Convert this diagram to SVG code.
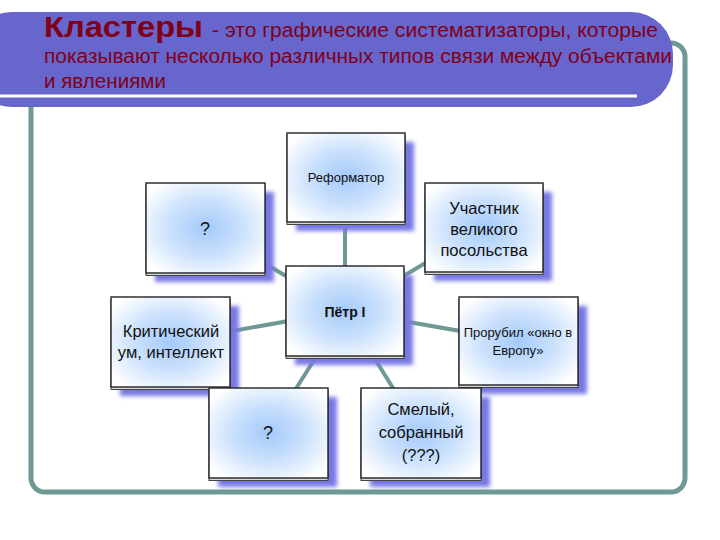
<svg xmlns="http://www.w3.org/2000/svg" width="720" height="540" viewBox="0 0 720 540">
<defs>
<radialGradient id="g" cx="0.5" cy="0.5" r="0.62">
<stop offset="0" stop-color="#a4cafa"/>
<stop offset="0.5" stop-color="#cbe1fc"/>
<stop offset="1" stop-color="#ffffff"/>
</radialGradient>
<filter id="blur" x="-20%" y="-20%" width="140%" height="140%">
<feGaussianBlur stdDeviation="2.2"/>
</filter>
<style>
.sh{fill:#7878e4;filter:url(#blur)}
.back{fill:#d8d8d8;stroke:#444;stroke-width:1}
.box{fill:url(#g);stroke:#222;stroke-width:1.4}
.t{font-family:"Liberation Sans",Arial,sans-serif;fill:#111;text-anchor:middle}
.c line{stroke:#6f9994;stroke-width:4}
.title{font-family:"Liberation Sans",Arial,sans-serif;fill:#800018}
</style>
</defs>
<rect width="720" height="540" fill="#fff"/>
<rect x="31" y="43" width="654" height="449" rx="14" fill="none" stroke="#6f9994" stroke-width="5"/>
<rect x="-30" y="12" width="703" height="95" rx="42" fill="#6666cc"/>
<line x1="0" y1="96" x2="637" y2="96" stroke="#fff" stroke-width="3"/>
<g id="title" class="title">
<text x="44" y="37" font-size="30" font-weight="bold" textLength="159" lengthAdjust="spacingAndGlyphs">Кластеры</text>
<text x="212" y="37" font-size="20" textLength="446" lengthAdjust="spacingAndGlyphs">- это графические систематизаторы, которые</text>
<text x="44" y="63" font-size="20" textLength="628" lengthAdjust="spacingAndGlyphs">показывают несколько различных типов связи между объектами</text>
<text x="44" y="88" font-size="20" textLength="122" lengthAdjust="spacingAndGlyphs">и явлениями</text>
</g>
<g id="connectors" class="c">
<line x1="345" y1="311" x2="345" y2="178"/>
<line x1="345" y1="311" x2="205" y2="228"/>
<line x1="345" y1="311" x2="484" y2="228"/>
<line x1="345" y1="311" x2="170" y2="342"/>
<line x1="345" y1="311" x2="518" y2="341"/>
<line x1="345" y1="311" x2="268" y2="433"/>
<line x1="345" y1="311" x2="421" y2="433"/>
</g>
<g id="n-reformator">
<rect class="sh" x="296" y="142" width="118" height="89"/>
<rect class="back" x="287" y="135.5" width="118" height="89"/>
<rect class="box" x="287" y="133" width="118" height="89"/>
<text class="t" x="346" y="182" font-size="13">Реформатор</text>
</g>
<g id="n-q1">
<rect class="sh" x="155" y="192" width="119" height="90"/>
<rect class="back" x="146" y="185.5" width="119" height="90"/>
<rect class="box" x="146" y="183" width="119" height="90"/>
<text class="t" x="205" y="235" font-size="18">?</text>
</g>
<g id="n-uchastnik">
<rect class="sh" x="434" y="192" width="118" height="89"/>
<rect class="back" x="425" y="185.5" width="118" height="89"/>
<rect class="box" x="425" y="183" width="118" height="89"/>
<text class="t" x="484" y="214" font-size="16.5">Участник</text>
<text class="t" x="484" y="235" font-size="16.5">великого</text>
<text class="t" x="484" y="256" font-size="16.5">посольства</text>
</g>
<g id="n-petr">
<rect class="sh" x="295" y="275" width="118" height="90"/>
<rect class="back" x="286" y="268.5" width="118" height="90"/>
<rect class="box" x="286" y="266" width="118" height="90"/>
<text class="t" x="345" y="317" font-size="14" font-weight="bold">Пётр I</text>
</g>
<g id="n-krit">
<rect class="sh" x="120" y="306" width="119" height="90"/>
<rect class="back" x="111" y="299.5" width="119" height="90"/>
<rect class="box" x="111" y="297" width="119" height="90"/>
<text class="t" x="171" y="337" font-size="16.5">Критический</text>
<text class="t" x="171" y="358" font-size="16.5">ум, интеллект</text>
</g>
<g id="n-prorubil">
<rect class="sh" x="468" y="306" width="119" height="88"/>
<rect class="back" x="459" y="299.5" width="119" height="88"/>
<rect class="box" x="459" y="297" width="119" height="88"/>
<text class="t" x="518" y="337" font-size="13">Прорубил «окно в</text>
<text class="t" x="518" y="355" font-size="13">Европу»</text>
</g>
<g id="n-q2">
<rect class="sh" x="218" y="397" width="119" height="90"/>
<rect class="back" x="209" y="390.5" width="119" height="90"/>
<rect class="box" x="209" y="388" width="119" height="90"/>
<text class="t" x="268" y="439" font-size="18">?</text>
</g>
<g id="n-smely">
<rect class="sh" x="370" y="397" width="120" height="90"/>
<rect class="back" x="361" y="390.5" width="120" height="90"/>
<rect class="box" x="361" y="388" width="120" height="90"/>
<text class="t" x="421" y="415" font-size="16.5">Смелый,</text>
<text class="t" x="421" y="438" font-size="16.5">собранный</text>
<text class="t" x="421" y="461" font-size="16.5">(???)</text>
</g>
</svg>
